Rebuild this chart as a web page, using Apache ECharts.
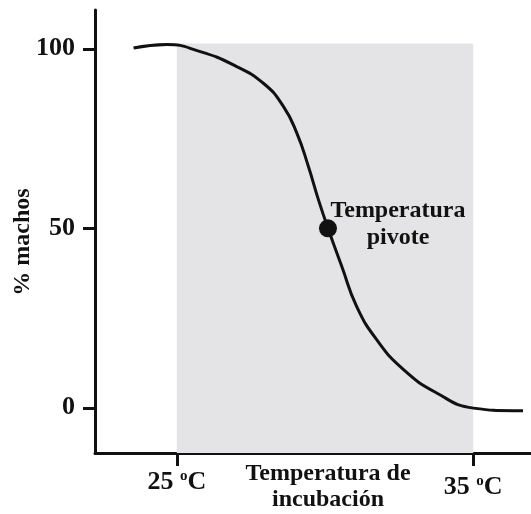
<!DOCTYPE html>
<html>
<head>
<meta charset="utf-8">
<script src="https://cdn.jsdelivr.net/npm/echarts@6/dist/echarts.min.js"></script>
<style>
  html, body { margin: 0; padding: 0; background: #fff; }
  #chart { width: 531px; height: 514px; }
</style>
</head>
<body>
<div id="chart"></div>
<script>
// curve: incubation temperature (°C) vs % males
const curveTemp = [23.54, 24.66, 25.79, 26.91, 27.92, 28.6, 29.05, 29.44, 29.78, 30.1, 30.57, 31.07, 31.75, 32.65, 33.77, 35.01, 36.36, 36.68];
const curveMale = [100.2, 101.2, 99.2, 95.5, 90.4, 83.9, 76.5, 67.2, 57.9, 50, 39.3, 28.2, 18.9, 10.6, 4.1, -0.1, -0.8, -0.8];
const pivotPoint = [30.1, 50];
const pivotLabel = 'Temperatura\npivote';
const bandRange = [25, 35];
const bandTop = 101.5;
const xTicks = [25, 35];
const yTicks = [0, 50, 100];
const xName = 'Temperatura de\nincubación';
const yName = '% machos';

const X_MIN = 22.24, X_MAX = 36.95;
const Y_MIN = -12.6, Y_MAX = 110.8;
const FONT = "'Liberation Serif', 'Times New Roman', serif";
const INK = '#111';

const chart = echarts.init(document.getElementById('chart'), null, { renderer: 'canvas' });

const bold = { color: INK, fontFamily: FONT, fontWeight: 'bold' };

// the 35 label sits a little lower than the 25 label in the original
function tickLabel(v) {
  return v === xTicks[0] ? `{a|${v} }{s|o}{a|C}` : `{b|${v} }{t|o}{b|C}`;
}

chart.setOption({
  animation: false,
  grid: { left: 95, right: 0, top: 10, bottom: 61, containLabel: false, outerBoundsMode: 'none' },
  xAxis: {
    type: 'value',
    min: X_MIN,
    max: X_MAX,
    name: xName,
    nameLocation: 'middle',
    nameGap: 8,
    nameMoveOverlap: false,
    nameTextStyle: {
      ...bold, fontSize: 24, lineHeight: 26, align: 'center', verticalAlign: 'top', padding: [0, 0, 0, 30],
    },
    axisLine: { onZero: false, lineStyle: { color: INK, width: 3 } },
    axisTick: { customValues: xTicks, length: 13, lineStyle: { color: INK, width: 3 } },
    axisLabel: {
      customValues: xTicks,
      margin: 16,
      formatter: tickLabel,
      rich: {
        a: { ...bold, fontSize: 26, lineHeight: 26 },
        s: { ...bold, fontSize: 15, lineHeight: 26, verticalAlign: 'top' },
        b: { ...bold, fontSize: 26, lineHeight: 36 },
        t: { ...bold, fontSize: 15, lineHeight: 36, padding: [0, 0, 11, 0] },
      },
      padding: [0, 0, 0, 0],
    },
    splitLine: { show: false },
  },
  yAxis: {
    type: 'value',
    min: Y_MIN,
    max: Y_MAX,
    name: yName,
    nameLocation: 'middle',
    nameRotate: 90,
    nameGap: 60,
    nameMoveOverlap: false,
    nameTextStyle: { ...bold, fontSize: 24, padding: [0, 21, 0, 0] },
    axisLine: { onZero: false, lineStyle: { color: INK, width: 3 } },
    axisTick: { customValues: yTicks, length: 12, lineStyle: { color: INK, width: 3 } },
    axisLabel: { customValues: yTicks, margin: 20, ...bold, fontSize: 26 },
    splitLine: { show: false },
  },
  series: [
    {
      name: 'machos',
      type: 'line',
      smooth: 0.5,
      showSymbol: false,
      z: 3,
      data: curveTemp.map((t, i) => [t, curveMale[i]]),
      lineStyle: { color: INK, width: 3 },
      markArea: {
        silent: true,
        itemStyle: { color: '#e4e4e6' },
        data: [[{ xAxis: bandRange[0], yAxis: Y_MIN }, { xAxis: bandRange[1], yAxis: bandTop }]],
      },
    },
    {
      name: 'pivote',
      type: 'scatter',
      z: 5,
      symbolSize: 18,
      data: [pivotPoint],
      itemStyle: { color: INK, opacity: 1 },
      label: {
        show: true,
        position: 'inside',
        formatter: pivotLabel,
        offset: [70, -4],
        align: 'center',
        ...bold, fontSize: 24, lineHeight: 27,
      },
    },
  ],
});

window.addEventListener('resize', () => chart.resize());
</script>
</body>
</html>
